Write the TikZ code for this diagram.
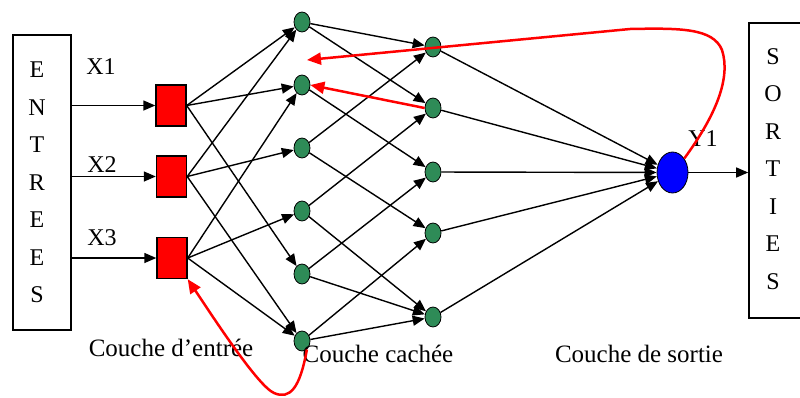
\documentclass[tikz,border=0pt]{standalone}
\usepackage{fontspec}
\setmainfont{Liberation Serif}
\usetikzlibrary{arrows.meta,shapes.geometric}
\definecolor{hgreen}{RGB}{46,139,87}
\begin{document}
\begin{tikzpicture}[x=1pt,y=-1pt,
  lbl/.style={font=\fontsize{25}{30}\selectfont, inner sep=0pt},
  xlbl/.style={font=\fontsize{24}{30}\selectfont, inner sep=0pt},
  iobox/.style={draw, line width=1.6pt, minimum width=58pt, minimum height=295pt, inner sep=0pt},
  letters/.style={font=\fontsize{24}{37.5}\selectfont, align=center, inner sep=0pt},
  insq/.style={draw, fill=red, line width=1.4pt, minimum width=30pt, minimum height=41pt, inner sep=0pt},
  hid/.style={ellipse, draw, fill=hgreen, line width=0.8pt, minimum width=16pt, minimum height=20pt, inner sep=0pt},
  outn/.style={ellipse, draw, fill=blue, line width=0.8pt, minimum width=31pt, minimum height=41pt, inner sep=0pt},
  conn/.style={line width=1.4pt, -{Triangle[length=12pt,width=10pt]}},
  fb/.style={red, line width=2.5pt, -{Triangle[length=14pt,width=12pt]}},
]
\useasboundingbox (0,0) rectangle (800,397);
\clip (0,0) rectangle (800,397);

% boxes
\node[iobox] (ent) at (42,182.5) {};
\node[letters] (entl) at (37,182.5) {E\\N\\T\\R\\E\\E\\S};
\node[iobox] (sor) at (778,170.5) {};
\node[letters] (sorl) at (773,169) {S\\O\\R\\T\\I\\E\\S};

% input layer
\node[insq] (sq1) at (171,105.5) {};
\node[insq] (sq2) at (171.5,176.5) {};
\node[insq] (sq3) at (172,258) {};

% hidden layer 1
\node[hid] (h11) at (302,22) {};
\node[hid] (h12) at (302,85) {};
\node[hid] (h13) at (302,148) {};
\node[hid] (h14) at (302,211) {};
\node[hid] (h15) at (302,274) {};
\node[hid] (h16) at (302,341) {};

% hidden layer 2
\node[hid] (h21) at (433,47) {};
\node[hid] (h22) at (433,108) {};
\node[hid] (h23) at (433,172) {};
\node[hid] (h24) at (433,233) {};
\node[hid] (h25) at (433,317) {};

% output
\node[outn] (out) at (672.5,172.5) {};

% labels
\node[xlbl] (x1) at (101,67) {X1};
\node[xlbl] (x2) at (102,165) {X2};
\node[xlbl] (x3) at (102,238) {X3};
\node[xlbl] (y1) at (703,139) {Y1};
\node[lbl] (lin) at (171,348) {Couche d’entrée};
\node[lbl] (lhid) at (378,354) {Couche cachée};
\node[lbl] (lout) at (639,354) {Couche de sortie};

% inputs
\draw[conn] (ent.east |- sq1.west) -- (sq1.west);
\draw[conn] (ent.east |- sq2.west) -- (sq2.west);
\draw[conn] (ent.east |- sq3.west) -- (sq3.west);

% input -> hidden 1
\draw[conn] (sq1.east) -- (h11);
\draw[conn] (sq1.east) -- (h12);
\draw[conn] (sq1.east) -- (h15);
\draw[conn] (sq2.east) -- (h11);
\draw[conn] (sq2.east) -- (h13);
\draw[conn] (sq2.east) -- (h16);
\draw[conn] (sq3.east) -- (h12);
\draw[conn] (sq3.east) -- (h14);
\draw[conn] (sq3.east) -- (h16);

% hidden 1 -> hidden 2
\draw[conn] (h11) -- (h21);
\draw[conn] (h11) -- (h22);
\draw[conn] (h12) -- (h23);
\draw[conn] (h13) -- (h21);
\draw[conn] (h13) -- (h24);
\draw[conn] (h14) -- (h22);
\draw[conn] (h14) -- (h25);
\draw[conn] (h15) -- (h23);
\draw[conn] (h15) -- (h25);
\draw[conn] (h16) -- (h24);
\draw[conn] (h16) -- (h25);

% hidden 2 -> output
\draw[conn] (h21) -- (out);
\draw[conn] (h22) -- (out);
\draw[conn] (h23) -- (out);
\draw[conn] (h24) -- (out);
\draw[conn] (h25) -- (out);

% output -> sorties
\draw[conn] (out.east) -- (out.east -| sor.west);

% feedback (red)
\coordinate (fb1) at (307,60);
\draw[fb] (out.50) .. controls (716,115) and (731,78) .. (722,50)
  .. controls (713,28) and (680,28) .. (630,29) -- (fb1);
\draw[fb] (h22.west) -- (h12.east);
\draw[fb] (h16.-60) .. controls (300,388) and (290,400) .. (274,393)
  .. controls (258,386) and (215,320) .. (sq3.south east);
\end{tikzpicture}
\end{document}
